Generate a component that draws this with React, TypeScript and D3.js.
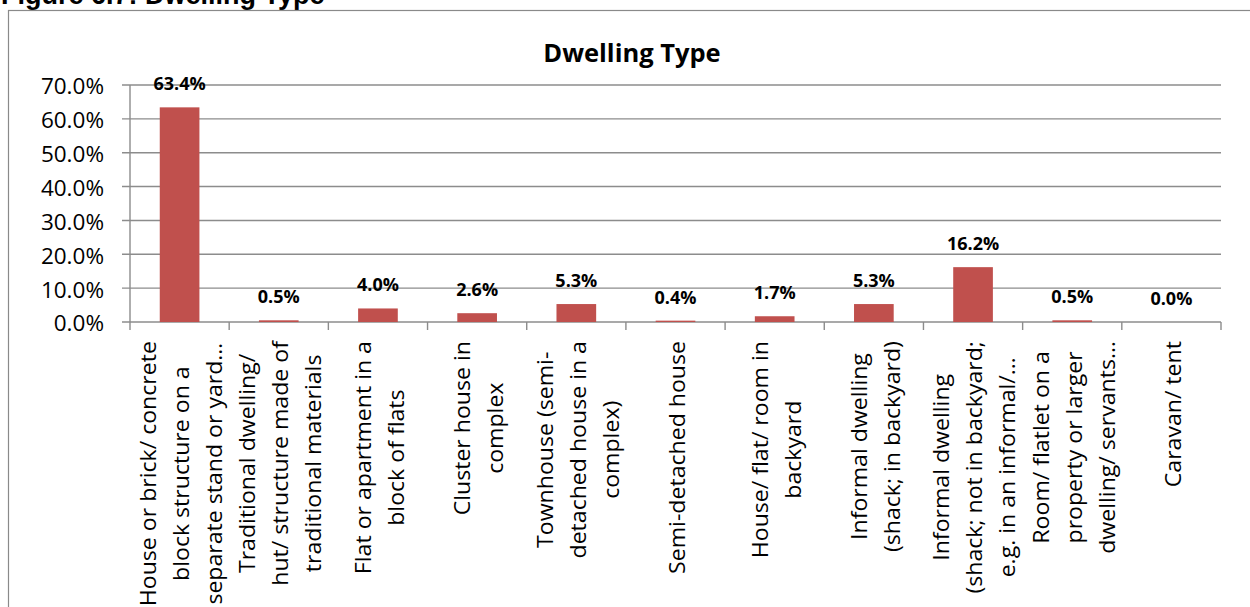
import React, { useMemo } from 'react';
import * as d3 from 'd3';

const categoryLines: string[][] = [
  ['House or brick/ concrete', 'block structure on a', 'separate stand or yard…'],
  ['Traditional dwelling/', 'hut/ structure made of', 'traditional materials'],
  ['Flat or apartment in a', 'block of flats'],
  ['Cluster house in', 'complex'],
  ['Townhouse (semi-', 'detached house in a', 'complex)'],
  ['Semi-detached house'],
  ['House/ flat/ room in', 'backyard'],
  ['Informal dwelling', '(shack; in backyard)'],
  ['Informal dwelling', '(shack; not in backyard;', 'e.g. in an informal/…'],
  ['Room/ flatlet on a', 'property or larger', 'dwelling/ servants…'],
  ['Caravan/ tent'],
];
const values = [63.4, 0.5, 4.0, 2.6, 5.3, 0.4, 1.7, 5.3, 16.2, 0.5, 0.0];
const yTicks = [0, 10, 20, 30, 40, 50, 60, 70];
const chartTitle = 'Dwelling Type';
const figureTitle = 'Figure 6.7: Dwelling Type';

const FONT = '"Open Sans", Lato, sans-serif';
const CAT_SIZE = 21;
const CAT_STRETCH = 1.1;

export default function App() {
  const W = 1250, H = 607;
  const left = 130, right = 1221, top = 85, bottom = 322;
  const ids = categoryLines.map((_, i) => String(i));
  const x = d3.scaleBand<string>().domain(ids).range([left, right]).paddingInner(0.6).paddingOuter(0.3);
  const y = d3.scaleLinear().domain([0, 70]).range([bottom, top]);
  const fmt = d3.format('.1f');
  const step = x.step();

  const widths = useMemo(() => {
    const c = document.createElement('canvas').getContext('2d');
    if (!c) return categoryLines.map(() => 200);
    c.font = `${CAT_SIZE}px "Open Sans"`;
    return categoryLines.map(ls => Math.max(...ls.map(l => c.measureText(l).width)) * CAT_STRETCH);
  }, []);

  const grid = '#8c8c8c';
  const boundaries = d3.range(ids.length + 1).map(i => left + i * step);

  return (
    <svg width={W} height={H} style={{ position: 'absolute', left: 0, top: 0, background: '#fff' }}>
      <rect x={0} y={0} width={W} height={H} fill="#fff" />
      <text x={1} y={4} fontFamily='"Liberation Sans", Arial, sans-serif' fontWeight="bold" fontSize={27} fill="#000">{figureTitle}</text>
      <rect x={8.5} y={10.5} width={1300} height={700} fill="none" stroke="#8a8a8a" strokeWidth={1.2} />
      <text x={632} y={62} textAnchor="middle" fontFamily={FONT} fontWeight="bold" fontSize={25.5} fill="#000">{chartTitle}</text>

      {yTicks.map(t => (
        <g key={t}>
          <line x1={left - 8} x2={right} y1={y(t)} y2={y(t)} stroke={grid} strokeWidth={1.4} />
          <text x={104} y={y(t)} dy="0.42em" textAnchor="end" fontFamily={FONT} fontSize={22.5} fill="#000">{fmt(t)}%</text>
        </g>
      ))}
      <line x1={left} x2={left} y1={top} y2={bottom} stroke={grid} strokeWidth={1.4} />
      {boundaries.map((bx, i) => (
        <line key={i} x1={bx} x2={bx} y1={bottom} y2={bottom + 8} stroke={grid} strokeWidth={1.4} />
      ))}

      {values.map((v, i) => {
        const bx = x(String(i))!;
        const bw = x.bandwidth();
        return (
          <g key={i}>
            <rect x={bx} y={y(v)} width={bw} height={Math.max(0, bottom - y(v))} fill="#C0504D" />
            <text x={bx + bw / 2} y={y(v) - 17} textAnchor="middle" fontFamily={FONT} fontWeight="bold" fontSize={18} fill="#000">{fmt(v)}%</text>
          </g>
        );
      })}

      {categoryLines.map((ls, i) => {
        const cx = left + (i + 0.5) * step + 2;
        const cy = 341 + widths[i] / 2;
        const n = ls.length;
        return (
          <g key={i} transform={`translate(${cx},${cy}) rotate(-90) scale(${CAT_STRETCH},1)`}>
            {ls.map((l, j) => (
              <text key={j} x={0} y={(j - (n - 1) / 2) * 33} dy="0.35em" textAnchor="middle" fontFamily={FONT} fontSize={CAT_SIZE} fill="#000">{l}</text>
            ))}
          </g>
        );
      })}
    </svg>
  );
}
